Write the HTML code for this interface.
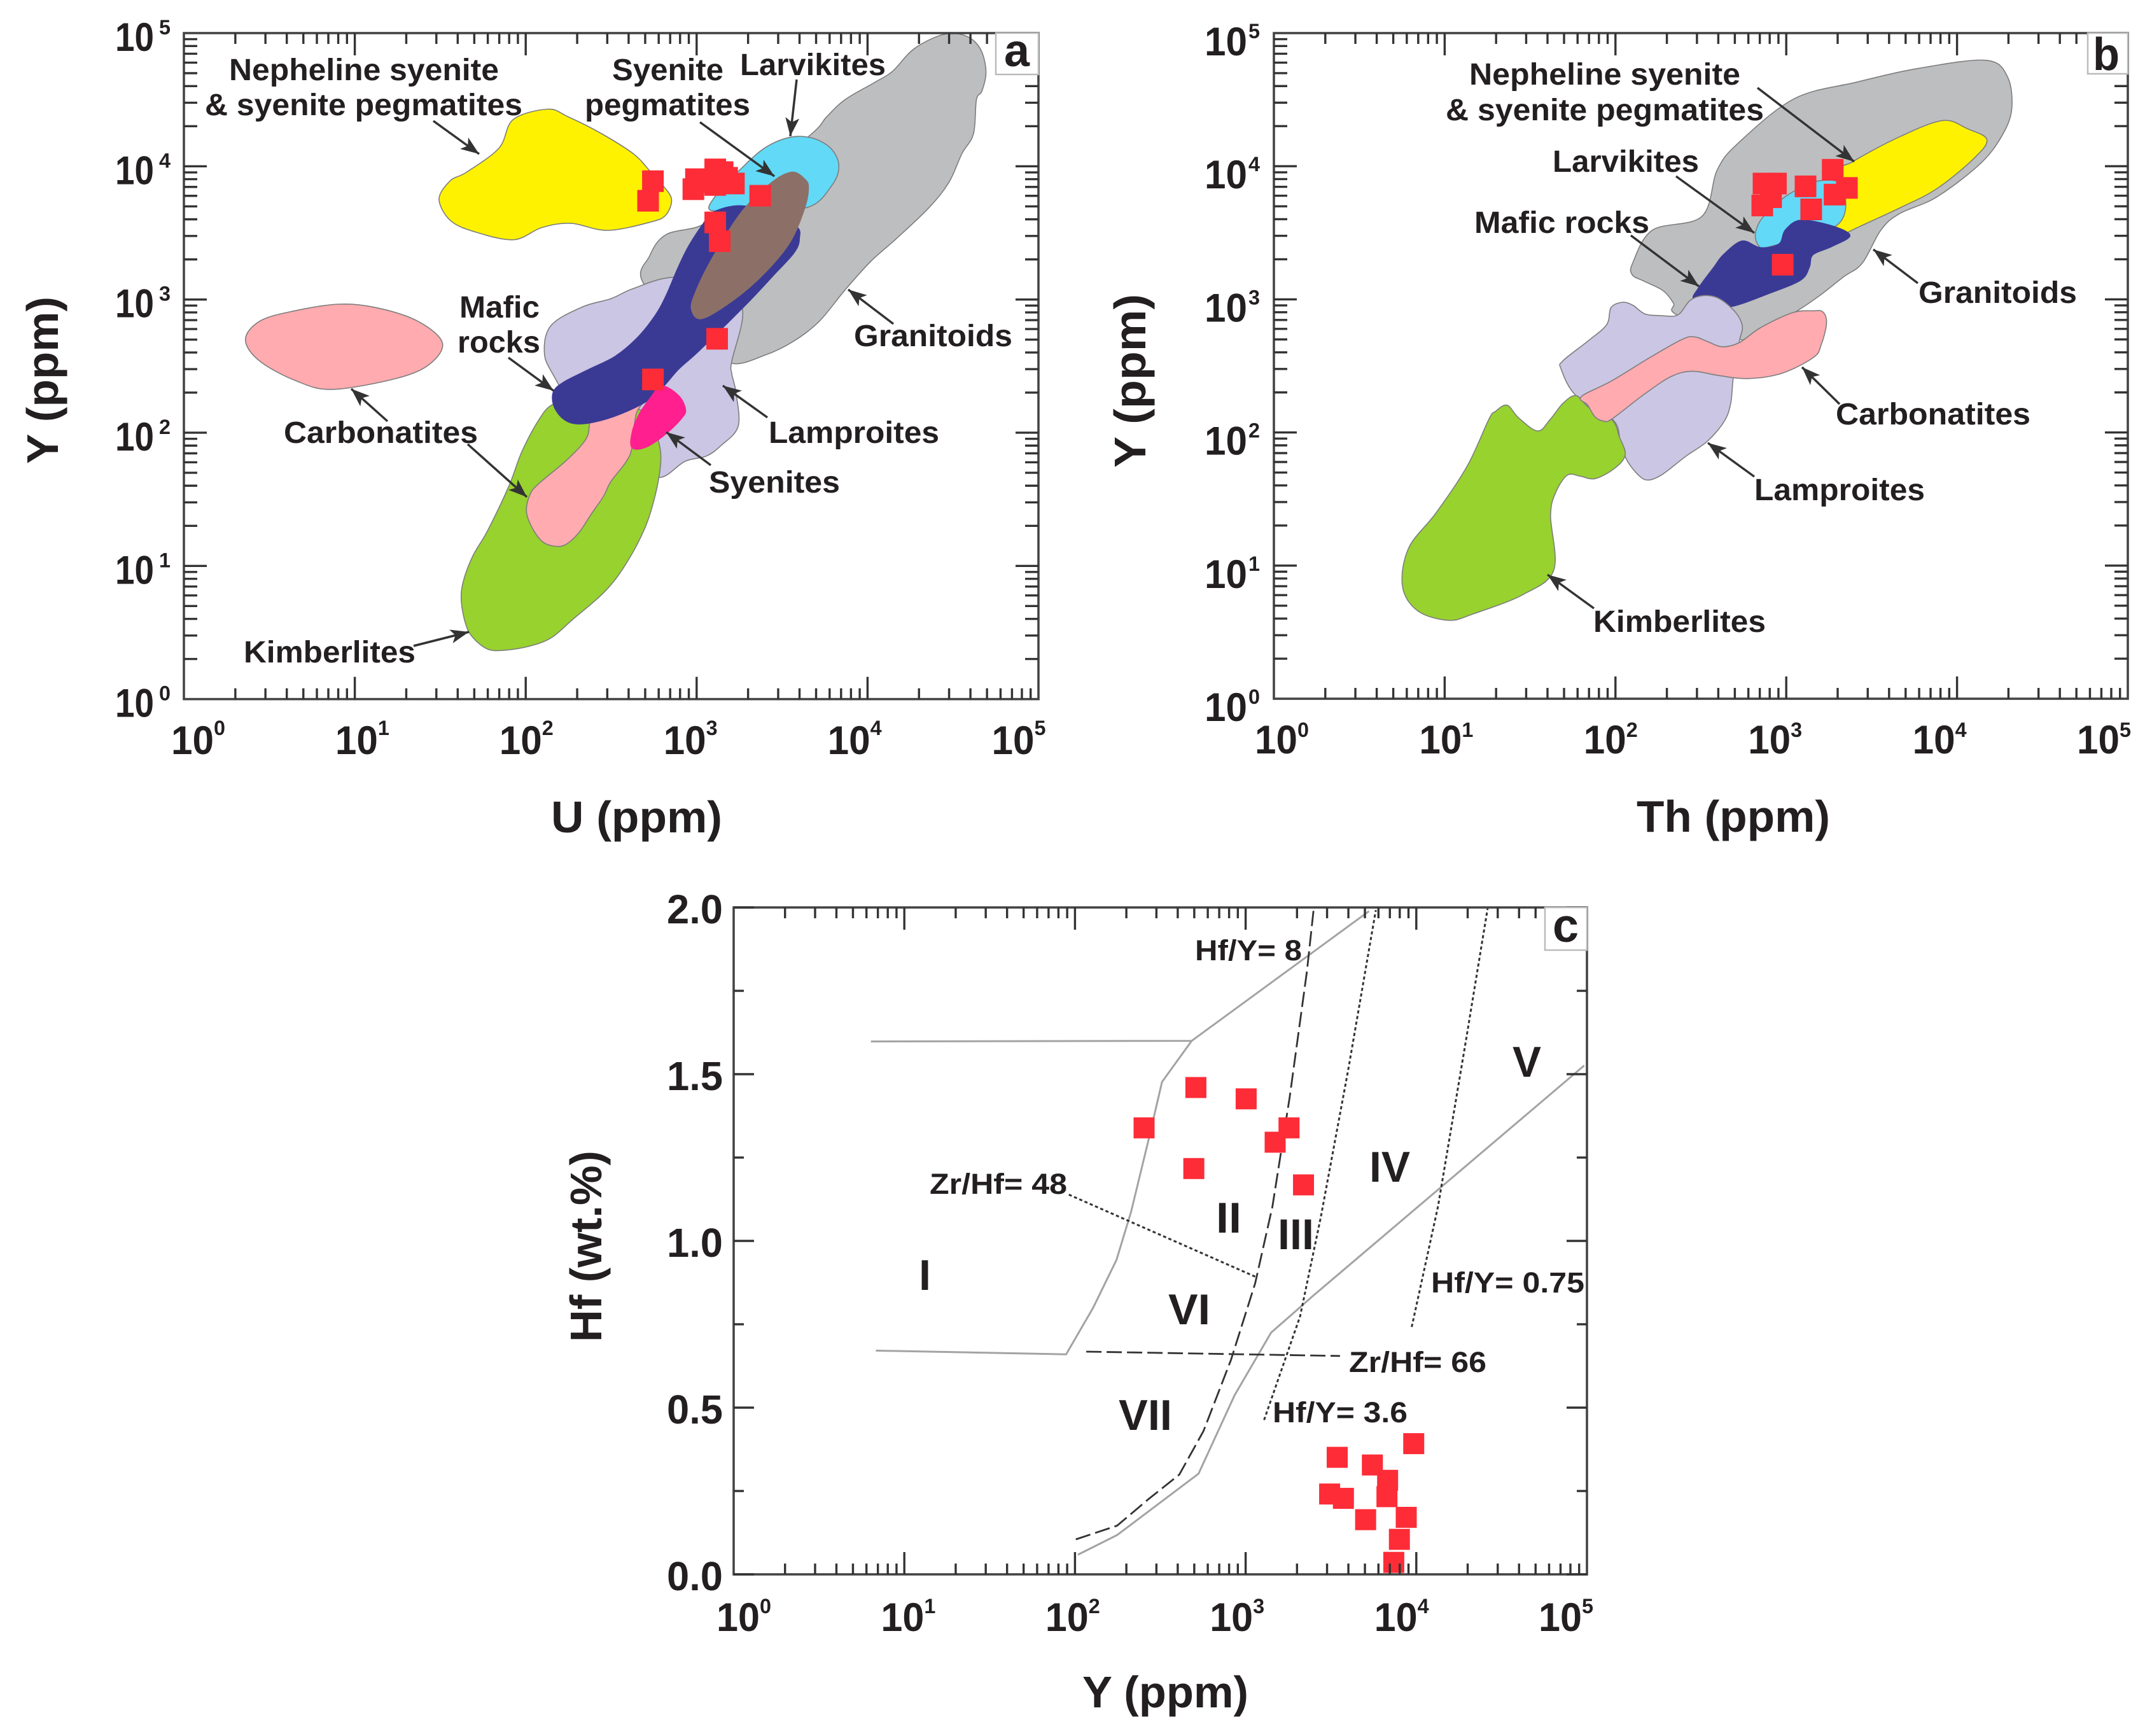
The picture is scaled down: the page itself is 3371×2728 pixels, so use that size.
<!DOCTYPE html>
<html>
<head>
<meta charset="utf-8">
<title>Trace element discrimination diagrams</title>
<style>
html,body{margin:0;padding:0;background:#fff;}
svg{display:block;}
text{font-family:"Liberation Sans",sans-serif;font-weight:bold;fill:#231f20;}
.lab{font-size:48px;}
.lab-c{font-size:45px;}
.rom{font-size:68px;}
.title{font-size:70px;}
.ann{stroke:#333;stroke-width:3.5;fill:none;}
</style>
</head>
<body>
<svg id="chart" xmlns="http://www.w3.org/2000/svg" width="3371" height="2728" viewBox="0 0 3371 2728">
<defs>
<marker id="ah" markerUnits="userSpaceOnUse" markerWidth="30" markerHeight="22" refX="29" refY="11" orient="auto">
<path d="M0,0 L29,11 L0,22 L7,11 z" fill="#333"/>
</marker>
</defs>
<rect width="3371" height="2728" fill="#fff"/>
<g id="panelA"></g>
<g id="panelB"></g>
<g id="panelC"></g>

<g>
<rect x="1565" y="52" width="67" height="65" fill="#fff" stroke="#bbb" stroke-width="2.5"/>
<text x="1578" y="104" font-size="72" textLength="40" lengthAdjust="spacingAndGlyphs">a</text>
<text class="lab" x="360" y="126" textLength="424" lengthAdjust="spacingAndGlyphs">Nepheline syenite</text>
<text class="lab" x="322" y="181" textLength="499" lengthAdjust="spacingAndGlyphs">&amp; syenite pegmatites</text>
<text class="lab" x="962" y="126" textLength="175" lengthAdjust="spacingAndGlyphs">Syenite</text>
<text class="lab" x="919" y="181" textLength="260" lengthAdjust="spacingAndGlyphs">pegmatites</text>
<text class="lab" x="1163" y="118" textLength="229" lengthAdjust="spacingAndGlyphs">Larvikites</text>
<text class="lab" x="722" y="499" textLength="126" lengthAdjust="spacingAndGlyphs">Mafic</text>
<text class="lab" x="719" y="554" textLength="130" lengthAdjust="spacingAndGlyphs">rocks</text>
<text class="lab" x="1342" y="544" textLength="249" lengthAdjust="spacingAndGlyphs">Granitoids</text>
<text class="lab" x="1208" y="696" textLength="268" lengthAdjust="spacingAndGlyphs">Lamproites</text>
<text class="lab" x="446" y="696" textLength="305" lengthAdjust="spacingAndGlyphs">Carbonatites</text>
<text class="lab" x="1114" y="774" textLength="206" lengthAdjust="spacingAndGlyphs">Syenites</text>
<text class="lab" x="383" y="1041" textLength="270" lengthAdjust="spacingAndGlyphs">Kimberlites</text>
<line class="ann" marker-end="url(#ah)" x1="681" y1="190" x2="753" y2="242"/>
<line class="ann" marker-end="url(#ah)" x1="609" y1="662" x2="552" y2="611"/>
<line class="ann" marker-end="url(#ah)" x1="799" y1="562" x2="870" y2="614"/>
<line class="ann" marker-end="url(#ah)" x1="735" y1="698" x2="828" y2="781"/>
<line class="ann" marker-end="url(#ah)" x1="650" y1="1015" x2="737" y2="993"/>
<line class="ann" marker-end="url(#ah)" x1="1252" y1="125" x2="1242" y2="214"/>
<line class="ann" marker-end="url(#ah)" x1="1100" y1="192" x2="1217" y2="277"/>
<line class="ann" marker-end="url(#ah)" x1="1404" y1="509" x2="1333" y2="455"/>
<line class="ann" marker-end="url(#ah)" x1="1206" y1="656" x2="1136" y2="606"/>
<line class="ann" marker-end="url(#ah)" x1="1117" y1="731" x2="1047" y2="679"/>
<text class="title" x="866" y="1308" textLength="269" lengthAdjust="spacingAndGlyphs">U (ppm)</text>
<text class="title" transform="rotate(-90 91 729)" x="91" y="729" textLength="263" lengthAdjust="spacingAndGlyphs">Y (ppm)</text>
</g>

<g>
<rect x="3281" y="52" width="63" height="64" fill="#fff" stroke="#bbb" stroke-width="2.5"/>
<text x="3289" y="110" font-size="72" textLength="42" lengthAdjust="spacingAndGlyphs">b</text>
<text class="lab" x="2309" y="133" textLength="426" lengthAdjust="spacingAndGlyphs">Nepheline syenite</text>
<text class="lab" x="2272" y="189" textLength="500" lengthAdjust="spacingAndGlyphs">&amp; syenite pegmatites</text>
<text class="lab" x="2440" y="270" textLength="230" lengthAdjust="spacingAndGlyphs">Larvikites</text>
<text class="lab" x="2317" y="366" textLength="275" lengthAdjust="spacingAndGlyphs">Mafic rocks</text>
<text class="lab" x="3015" y="476" textLength="249" lengthAdjust="spacingAndGlyphs">Granitoids</text>
<text class="lab" x="2885" y="667" textLength="306" lengthAdjust="spacingAndGlyphs">Carbonatites</text>
<text class="lab" x="2757" y="786" textLength="268" lengthAdjust="spacingAndGlyphs">Lamproites</text>
<text class="lab" x="2504" y="993" textLength="271" lengthAdjust="spacingAndGlyphs">Kimberlites</text>
<line class="ann" marker-end="url(#ah)" x1="2762" y1="138" x2="2914" y2="254"/>
<line class="ann" marker-end="url(#ah)" x1="2634" y1="277" x2="2757" y2="366"/>
<line class="ann" marker-end="url(#ah)" x1="2563" y1="370" x2="2670" y2="450"/>
<line class="ann" marker-end="url(#ah)" x1="3014" y1="445" x2="2944" y2="392"/>
<line class="ann" marker-end="url(#ah)" x1="2891" y1="635" x2="2832" y2="577"/>
<line class="ann" marker-end="url(#ah)" x1="2757" y1="749" x2="2684" y2="696"/>
<line class="ann" marker-end="url(#ah)" x1="2505" y1="956" x2="2432" y2="903"/>
<text class="title" x="2572" y="1307" textLength="304" lengthAdjust="spacingAndGlyphs">Th (ppm)</text>
<text class="title" transform="rotate(-90 1800 735)" x="1800" y="735" textLength="273" lengthAdjust="spacingAndGlyphs">Y (ppm)</text>
</g>

<g>
<rect x="2428" y="1426" width="66" height="67" fill="#fff" stroke="#bbb" stroke-width="2.5"/>
<text x="2440" y="1480" font-size="75" textLength="41" lengthAdjust="spacingAndGlyphs">c</text>
<text class="lab-c" x="1878" y="1509" textLength="168" lengthAdjust="spacingAndGlyphs">Hf/Y= 8</text>
<text class="lab-c" x="1461" y="1876" textLength="216" lengthAdjust="spacingAndGlyphs">Zr/Hf= 48</text>
<text class="lab-c" x="2249" y="2031" textLength="241" lengthAdjust="spacingAndGlyphs">Hf/Y= 0.75</text>
<text class="lab-c" x="2120" y="2156" textLength="216" lengthAdjust="spacingAndGlyphs">Zr/Hf= 66</text>
<text class="lab-c" x="2000" y="2235" textLength="212" lengthAdjust="spacingAndGlyphs">Hf/Y= 3.6</text>
<text class="rom" x="1444" y="2027" textLength="19" lengthAdjust="spacingAndGlyphs">I</text>
<text class="rom" x="1911" y="1937" textLength="40" lengthAdjust="spacingAndGlyphs">II</text>
<text class="rom" x="2008" y="1963" textLength="57" lengthAdjust="spacingAndGlyphs">III</text>
<text class="rom" x="2152" y="1857" textLength="64" lengthAdjust="spacingAndGlyphs">IV</text>
<text class="rom" x="2377" y="1692" textLength="45" lengthAdjust="spacingAndGlyphs">V</text>
<text class="rom" x="1836" y="2081" textLength="66" lengthAdjust="spacingAndGlyphs">VI</text>
<text class="rom" x="1758" y="2247" textLength="84" lengthAdjust="spacingAndGlyphs">VII</text>
<text class="title" x="1701" y="2683" textLength="261" lengthAdjust="spacingAndGlyphs">Y (ppm)</text>
<text class="title" transform="rotate(-90 945 2109)" x="945" y="2109" textLength="301" lengthAdjust="spacingAndGlyphs">Hf (wt.%)</text>
</g>
</svg>

<script>
// ---- Data: axis ticks ----
const decadeExponents = [0, 1, 2, 3, 4, 5];
const minorMultipliers = [2, 3, 4, 5, 6, 7, 8, 9];
const hfMajorTicks = [0, 0.5, 1, 1.5, 2];
const hfMinorTicks = [0.25, 0.75, 1.25, 1.75];
const hfTickLabels = ['0.0', '0.5', '1.0', '1.5', '2.0'];

// ---- Data: panel a, fields as outlines of [log10 U, log10 Y] ----
const aGranitoids = [[4.445,4.990],[4.573,4.980],[4.659,4.884],[4.693,4.713],[4.669,4.564],[4.637,4.500],[4.620,4.244],[4.552,4.095],[4.477,3.881],[4.360,3.690],[4.167,3.455],[4.018,3.285],[3.868,3.071],[3.718,2.837],[3.569,2.688],[3.398,2.581],[3.206,2.521],[3.056,2.688],[2.693,3.114],[2.725,3.327],[2.821,3.487],[3.035,3.562],[3.184,3.754],[3.654,4.223],[3.761,4.372],[3.868,4.500],[4.039,4.628],[4.146,4.713],[4.274,4.884]];
const aNepheline = [[2.129,4.429],[2.248,4.372],[2.437,4.250],[2.629,4.095],[2.725,3.967],[2.800,3.860],[2.853,3.754],[2.821,3.636],[2.735,3.583],[2.479,3.519],[2.265,3.572],[2.094,3.540],[1.930,3.449],[1.702,3.508],[1.559,3.594],[1.493,3.754],[1.559,3.892],[1.654,3.956],[1.844,4.137],[1.927,4.351]];
const aCarbonatiteUpper = [[0.906,2.965],[1.132,2.937],[1.369,2.837],[1.512,2.677],[1.440,2.517],[1.251,2.410],[0.871,2.325],[0.657,2.389],[0.443,2.538],[0.360,2.698],[0.443,2.837],[0.633,2.911]];
const aLamproites = [[2.864,3.167],[2.629,3.082],[2.500,3.007],[2.329,2.943],[2.148,2.805],[2.109,2.602],[2.163,2.430],[2.329,2.100],[2.650,1.750],[2.790,1.665],[2.932,1.785],[3.056,1.824],[3.143,1.904],[3.243,2.048],[3.230,2.302],[3.205,2.446],[3.206,2.538],[3.270,2.901],[3.184,3.114]];
const aKimberlites = [[2.151,2.207],[2.076,2.095],[1.977,1.856],[1.902,1.601],[1.778,1.267],[1.691,1.076],[1.635,0.885],[1.623,0.741],[1.648,0.566],[1.691,0.462],[1.778,0.375],[1.877,0.367],[2.026,0.399],[2.151,0.462],[2.275,0.598],[2.461,0.805],[2.585,1.012],[2.697,1.283],[2.759,1.538],[2.790,1.777],[2.777,1.936],[2.721,2.143],[2.461,2.223],[2.275,2.255]];
const aCarbonatiteLower = [[2.374,2.071],[2.364,1.984],[2.324,1.904],[2.225,1.777],[2.076,1.617],[2.026,1.538],[2.004,1.410],[2.039,1.283],[2.101,1.179],[2.175,1.147],[2.237,1.163],[2.312,1.251],[2.386,1.394],[2.455,1.522],[2.498,1.633],[2.585,1.777],[2.622,1.888],[2.647,2.143],[2.721,2.302],[2.523,2.223],[2.399,2.175]];
const aLarvikites = [[3.084,3.668],[3.109,3.775],[3.248,3.967],[3.398,4.137],[3.547,4.218],[3.676,4.212],[3.783,4.137],[3.832,4.009],[3.793,3.860],[3.644,3.690],[3.291,3.690]];
const aMafic = [[2.163,2.310],[2.225,2.382],[2.374,2.478],[2.523,2.573],[2.650,2.709],[2.757,2.879],[2.821,3.029],[2.885,3.221],[2.949,3.391],[3.035,3.562],[3.099,3.658],[3.291,3.700],[3.569,3.562],[3.601,3.455],[3.569,3.349],[3.462,3.199],[3.291,2.965],[3.019,2.621],[2.895,2.478],[2.808,2.350],[2.721,2.247],[2.560,2.143],[2.399,2.079],[2.287,2.068],[2.213,2.111],[2.163,2.207]];
const aSyenitePegmatites = [[3.558,3.956],[3.633,3.903],[3.654,3.839],[3.633,3.690],[3.548,3.434],[3.398,3.199],[3.227,3.007],[3.035,2.858],[2.971,2.922],[2.992,3.050],[3.099,3.327],[3.270,3.668],[3.441,3.881]];
const aSyenites = [[2.796,2.350],[2.895,2.278],[2.935,2.175],[2.914,2.111],[2.821,1.992],[2.703,1.891],[2.622,1.888],[2.622,1.999],[2.659,2.127],[2.721,2.247]];

// ---- Data: panel a samples (ppm) ----
const aSampleU = [555,520,957,991,1285,1419,1507,1652,1285,1138,2355,1285,1365,1318,555];
const aSampleY = [7730,5510,6730,8000,9480,9040,8200,7430,7240,7600,6010,3790,2740,507,251];

// ---- Data: panel b, fields as outlines of [log10 Th, log10 Y] ----
const bGranitoids = [[4.168,4.796],[4.295,4.673],[4.320,4.426],[4.259,4.220],[4.132,4.014],[3.879,3.767],[3.662,3.643],[3.554,3.520],[3.446,3.273],[3.337,3.170],[3.193,3.026],[3.048,2.902],[2.903,2.820],[2.741,2.696],[2.361,2.882],[2.340,2.970],[2.278,3.066],[2.166,3.137],[2.098,3.185],[2.101,3.273],[2.217,3.520],[2.506,3.623],[2.596,3.973],[2.723,4.179],[3.048,4.508],[3.410,4.631],[3.771,4.734]];
const bNepheline = [[3.915,4.343],[4.060,4.282],[4.175,4.199],[4.096,4.055],[3.879,3.829],[3.662,3.685],[3.373,3.512],[3.211,3.396],[3.301,3.932],[3.391,4.035],[3.662,4.220]];
const bLarvikites = [[2.820,3.499],[2.867,3.623],[3.012,3.787],[3.192,3.890],[3.330,3.849],[3.301,3.561],[2.903,3.396],[2.838,3.405]];
const bMafic = [[2.458,3.002],[2.489,3.090],[2.576,3.241],[2.632,3.335],[2.741,3.438],[2.849,3.388],[2.958,3.417],[2.994,3.520],[3.084,3.594],[3.265,3.553],[3.373,3.479],[3.265,3.396],[3.156,3.335],[3.135,3.241],[3.085,3.145],[2.911,3.050],[2.675,2.946],[2.570,2.985]];
const bLamproites = [[2.042,2.978],[1.974,2.938],[1.949,2.811],[1.843,2.691],[1.694,2.540],[1.682,2.476],[1.769,2.277],[1.986,2.094],[2.029,1.935],[2.067,1.791],[2.141,1.672],[2.197,1.643],[2.278,1.688],[2.414,1.823],[2.539,1.935],[2.638,2.086],[2.675,2.221],[2.690,2.413],[2.725,2.683],[2.743,2.795],[2.706,2.898],[2.613,3.002],[2.526,3.029],[2.439,2.994],[2.365,2.883],[2.265,2.878],[2.172,2.891],[2.104,2.954]];
const bKimberlites = [[1.365,2.205],[1.433,2.110],[1.545,2.011],[1.620,2.102],[1.694,2.221],[1.769,2.277],[1.843,2.190],[1.980,2.094],[2.023,1.967],[2.057,1.831],[1.992,1.728],[1.880,1.653],[1.793,1.672],[1.719,1.680],[1.651,1.552],[1.620,1.377],[1.639,0.967],[1.458,0.782],[1.169,0.638],[1.024,0.589],[0.843,0.659],[0.753,0.844],[0.789,1.132],[0.952,1.400],[1.133,1.750],[1.259,2.100],[1.297,2.158]];
const bCarbonatites = [[1.800,2.269],[1.980,2.389],[2.203,2.564],[2.390,2.699],[2.464,2.718],[2.539,2.683],[2.626,2.644],[2.725,2.675],[2.849,2.787],[3.035,2.899],[3.160,2.914],[3.215,2.905],[3.236,2.820],[3.205,2.660],[3.160,2.564],[2.973,2.444],[2.775,2.405],[2.601,2.429],[2.452,2.460],[2.327,2.421],[2.166,2.285],[1.980,2.102],[1.930,2.086],[1.880,2.118],[1.837,2.206]];

// ---- Data: panel b samples (ppm) ----
const bSampleTh = [736,870,724,815,1297,1871,2265,1919,1400,953];
const bSampleY = [7410,7410,5070,5850,7060,9400,6870,6120,4740,1820];

// ---- Data: panel c boundaries as [log10 Y, Hf wt.%] ----
const cFieldTop = [[0.804,1.598],[2.684,1.600],[3.723,1.989]];
const cFieldLeft = [[2.684,1.600],[2.510,1.477],[2.429,1.299],[2.328,1.086],[2.243,0.943],[2.106,0.799],[1.948,0.660],[0.833,0.671]];
const cFieldLower = [[2.017,0.059],[2.247,0.118],[2.724,0.302],[2.935,0.537],[3.149,0.725],[3.399,0.837],[4.984,1.526]];
const cZrHf48Curve = [[2.005,0.105],[2.247,0.146],[2.429,0.225],[2.611,0.299],[2.753,0.430],[2.914,0.643],[3.056,0.873],[3.157,1.103],[3.258,1.431],[3.359,1.808],[3.399,1.997]];
const cHfY36 = [[3.108,0.463],[3.319,0.774],[3.440,1.070],[3.601,1.513],[3.763,1.992]];
const cHfY075 = [[3.973,0.742],[4.127,1.103],[4.289,1.595],[4.418,1.997]];
const cZr48Leader = [[1.964,1.139],[3.056,0.893]];
const cZr66Line = [[2.066,0.668],[3.553,0.655]];

// ---- Data: panel c samples ----
const cSampleY = [254,511,497,1007,1795,1489,2183,9660,3440,5530,6790,6730,3106,3741,5047,8730,7960,7380];
const cSampleHf = [1.339,1.460,1.217,1.426,1.339,1.296,1.168,0.392,0.351,0.328,0.282,0.233,0.241,0.228,0.164,0.171,0.105,0.036];

// ---- Rendering ----
const NS = 'http://www.w3.org/2000/svg';
function make(tag, attrs, parent) {
  const el = document.createElementNS(NS, tag);
  for (const k in attrs) el.setAttribute(k, attrs[k]);
  parent.appendChild(el);
  return el;
}
function linScale(d0, d1, r0, r1) {
  return v => r0 + (v - d0) * (r1 - r0) / (d1 - d0);
}
function closedSmooth(pts) {
  const n = pts.length;
  let d = 'M' + pts[0][0].toFixed(1) + ',' + pts[0][1].toFixed(1);
  for (let i = 0; i < n; i++) {
    const p0 = pts[(i - 1 + n) % n], p1 = pts[i], p2 = pts[(i + 1) % n], p3 = pts[(i + 2) % n];
    const c1x = p1[0] + (p2[0] - p0[0]) / 6, c1y = p1[1] + (p2[1] - p0[1]) / 6;
    const c2x = p2[0] - (p3[0] - p1[0]) / 6, c2y = p2[1] - (p3[1] - p1[1]) / 6;
    d += 'C' + c1x.toFixed(1) + ',' + c1y.toFixed(1) + ' ' + c2x.toFixed(1) + ',' + c2y.toFixed(1) + ' ' + p2[0].toFixed(1) + ',' + p2[1].toFixed(1);
  }
  return d + 'Z';
}
function drawField(g, outline, sx, sy, fill, stroke, name) {
  const pts = outline.map(p => [sx(p[0]), sy(p[1])]);
  const path = make('path', {d: closedSmooth(pts), fill: fill, stroke: stroke, 'stroke-width': 1.6}, g);
  
  
}
function drawSamples(g, xs, ys, sx, sy, size, name) {
  xs.forEach((v, i) => {
    const cx = sx(Math.log10(v)), cy = sy(ys[i]);
    const r = make('rect', {x: cx - size / 2, y: cy - size / 2, width: size, height: size, fill: '#fd2c37'}, g);
    
    
  });
}
function tick(g, x1, y1, x2, y2, name) {
  const l = make('line', {x1: x1, y1: y1, x2: x2, y2: y2, stroke: '#333', 'stroke-width': 3.4}, g);
  
  
}
function textAt(g, str, x, y, size, width, name) {
  const t = make('text', {x: x, y: y, 'font-size': size, textLength: width, lengthAdjust: 'spacingAndGlyphs'}, g);
  t.textContent = str;
  
  
}
function drawFrame(g, box) {
  const f = make('rect', {x: box.x0, y: box.y1, width: box.x1 - box.x0, height: box.y0 - box.y1, fill: 'none', stroke: '#444', 'stroke-width': 3.6}, g);
  
  
}
function drawLogXTicks(g, box, sx, cfg) {
  decadeExponents.forEach((e, i) => {
    const x = sx(e);
    if (i > 0 && i < decadeExponents.length - 1) {
      tick(g, x, box.y0, x, box.y0 - cfg.xMajor, 'x-major-tick');
      tick(g, x, box.y1, x, box.y1 + cfg.xMajor, 'x-major-tick');
    }
    if (i < decadeExponents.length - 1) {
      minorMultipliers.forEach(m => {
        const xm = sx(e + Math.log10(m));
        tick(g, xm, box.y0, xm, box.y0 - cfg.xMinor, 'x-minor-tick');
        tick(g, xm, box.y1, xm, box.y1 + cfg.xMinor, 'x-minor-tick');
      });
    }
    const left = x + cfg.xLabelOffset + cfg.xLabelDrift * i;
    textAt(g, '10', left, cfg.xLabelY, 63, cfg.xTenW, 'x-tick-label');
    textAt(g, String(e), left + cfg.xTenW, cfg.xSupY, 32, cfg.supW, 'x-tick-exponent');
  });
}
function drawLogYTicks(g, box, sy, cfg) {
  decadeExponents.forEach((e, i) => {
    const y = sy(e);
    if (i > 0 && i < decadeExponents.length - 1) {
      tick(g, box.x0, y, box.x0 + cfg.yMajor, y, 'y-major-tick');
      tick(g, box.x1, y, box.x1 - cfg.yMajor, y, 'y-major-tick');
    }
    if (i < decadeExponents.length - 1) {
      minorMultipliers.forEach(m => {
        const ym = sy(e + Math.log10(m));
        tick(g, box.x0, ym, box.x0 + cfg.yMinor, ym, 'y-minor-tick');
        tick(g, box.x1, ym, box.x1 - cfg.yMinor, ym, 'y-minor-tick');
      });
    }
    textAt(g, '10', cfg.yLabelX, y + cfg.yLabelDy, 63, cfg.yTenW, 'y-tick-label');
    textAt(g, String(e), cfg.yLabelX + cfg.yTenW + cfg.supGap, y + cfg.ySupDy, 32, cfg.supW, 'y-tick-exponent');
  });
}
function drawLine(g, data, sx, sy, style, name) {
  const pts = data.map(p => sx(p[0]).toFixed(1) + ',' + sy(p[1]).toFixed(1)).join(' ');
  const l = make('polyline', {points: pts, fill: 'none', stroke: style.color, 'stroke-width': style.width, 'stroke-dasharray': style.dash}, g);
  
  
}

// Panel a
(function () {
  const g = document.getElementById('panelA');
  const box = {x0: 289, x1: 1632, y0: 1098.6, y1: 52};
  const sx = linScale(0, 5, box.x0, box.x1);
  const sy = linScale(0, 5, box.y0, box.y1);
  const edge = '#7d7d7d';
  drawField(g, aGranitoids, sx, sy, '#bdbec0', edge, 'field-granitoids');
  drawField(g, aNepheline, sx, sy, '#fff200', edge, 'field-nepheline-syenite');
  drawField(g, aCarbonatiteUpper, sx, sy, '#ffabb0', edge, 'field-carbonatites-upper');
  drawField(g, aLamproites, sx, sy, '#cac6e3', edge, 'field-lamproites');
  drawField(g, aKimberlites, sx, sy, '#97d22f', edge, 'field-kimberlites');
  drawField(g, aCarbonatiteLower, sx, sy, '#ffabb0', edge, 'field-carbonatites-lower');
  drawField(g, aLarvikites, sx, sy, '#62d9f7', edge, 'field-larvikites');
  drawField(g, aMafic, sx, sy, '#3a3a95', '#3a3a95', 'field-mafic-rocks');
  drawField(g, aSyenitePegmatites, sx, sy, '#8c7068', '#8c7068', 'field-syenite-pegmatites');
  drawField(g, aSyenites, sx, sy, '#ff1f8f', '#ff1f8f', 'field-syenites');
  drawSamples(g, aSampleU, aSampleY, sx, v => sy(Math.log10(v)), 34, 'sample-square');
  drawFrame(g, box);
  drawLogXTicks(g, box, sx, {xMajor: 35, xMinor: 17, xLabelOffset: -20, xLabelDrift: -10.7, xLabelY: 1185, xSupY: 1155, xTenW: 67, supW: 18});
  drawLogYTicks(g, box, sy, {yMajor: 36, yMinor: 21, yLabelX: 181, yLabelDy: 28, ySupDy: 2, yTenW: 61, supW: 18, supGap: 8});
})();

// Panel b
(function () {
  const g = document.getElementById('panelB');
  const box = {x0: 2002, x1: 3344, y0: 1098, y1: 52};
  const sx = linScale(0, 5, box.x0, box.x1);
  const sy = linScale(0, 5, box.y0, box.y1);
  const edge = '#7d7d7d';
  drawField(g, bGranitoids, sx, sy, '#bdbec0', edge, 'field-granitoids');
  drawField(g, bNepheline, sx, sy, '#fff200', edge, 'field-nepheline-syenite');
  drawField(g, bLarvikites, sx, sy, '#62d9f7', edge, 'field-larvikites');
  drawField(g, bMafic, sx, sy, '#3a3a95', '#3a3a95', 'field-mafic-rocks');
  drawField(g, bLamproites, sx, sy, '#cac6e3', edge, 'field-lamproites');
  drawField(g, bKimberlites, sx, sy, '#97d22f', edge, 'field-kimberlites');
  drawField(g, bCarbonatites, sx, sy, '#ffabb0', edge, 'field-carbonatites');
  drawSamples(g, bSampleTh, bSampleY, sx, v => sy(Math.log10(v)), 34, 'sample-square');
  drawFrame(g, box);
  drawLogXTicks(g, box, sx, {xMajor: 35, xMinor: 17, xLabelOffset: -30, xLabelDrift: -10, xLabelY: 1184, xSupY: 1158, xTenW: 67, supW: 18});
  drawLogYTicks(g, box, sy, {yMajor: 36, yMinor: 21, yLabelX: 1893, yLabelDy: 35, ySupDy: 8, yTenW: 67, supW: 18, supGap: 2});
})();

// Panel c
(function () {
  const g = document.getElementById('panelC');
  const box = {x0: 1153, x1: 2494, y0: 2474, y1: 1426};
  const sx = linScale(0, 5, box.x0, box.x1);
  const sy = linScale(0, 2, box.y0, box.y1);
  const solid = {color: '#a3a3a3', width: 3, dash: 'none'};
  const longDash = {color: '#333', width: 2.8, dash: '24 8'};
  const dotted = {color: '#333', width: 3, dash: '5 4'};
  drawLine(g, cFieldTop, sx, sy, solid, 'field-boundary-upper');
  drawLine(g, cFieldLeft, sx, sy, solid, 'field-boundary-left');
  drawLine(g, cFieldLower, sx, sy, solid, 'field-boundary-lower');
  drawLine(g, cZrHf48Curve, sx, sy, longDash, 'zr-hf-48-curve');
  drawLine(g, cHfY36, sx, sy, dotted, 'hf-y-3-6-line');
  drawLine(g, cHfY075, sx, sy, dotted, 'hf-y-0-75-line');
  drawLine(g, cZr48Leader, sx, sy, dotted, 'zr-hf-48-leader');
  drawLine(g, cZr66Line, sx, sy, longDash, 'zr-hf-66-line');
  drawSamples(g, cSampleY, cSampleHf, sx, sy, 33, 'sample-square');
  drawFrame(g, box);
  drawLogXTicks(g, box, sx, {xMajor: 35, xMinor: 17, xLabelOffset: -27, xLabelDrift: -9.8, xLabelY: 2563, xSupY: 2535, xTenW: 68, supW: 18});
  hfMajorTicks.forEach((v, i) => {
    const y = sy(v);
    tick(g, box.x0, y, box.x0 + 32, y, 'y-major-tick');
    tick(g, box.x1, y, box.x1 - 32, y, 'y-major-tick');
    textAt(g, hfTickLabels[i], 1048, y + 25, 64, 88, 'y-tick-label');
  });
  hfMinorTicks.forEach(v => {
    const y = sy(v);
    tick(g, box.x0, y, box.x0 + 16, y, 'y-minor-tick');
    tick(g, box.x1, y, box.x1 - 16, y, 'y-minor-tick');
  });
})();
</script>
</body>
</html>
